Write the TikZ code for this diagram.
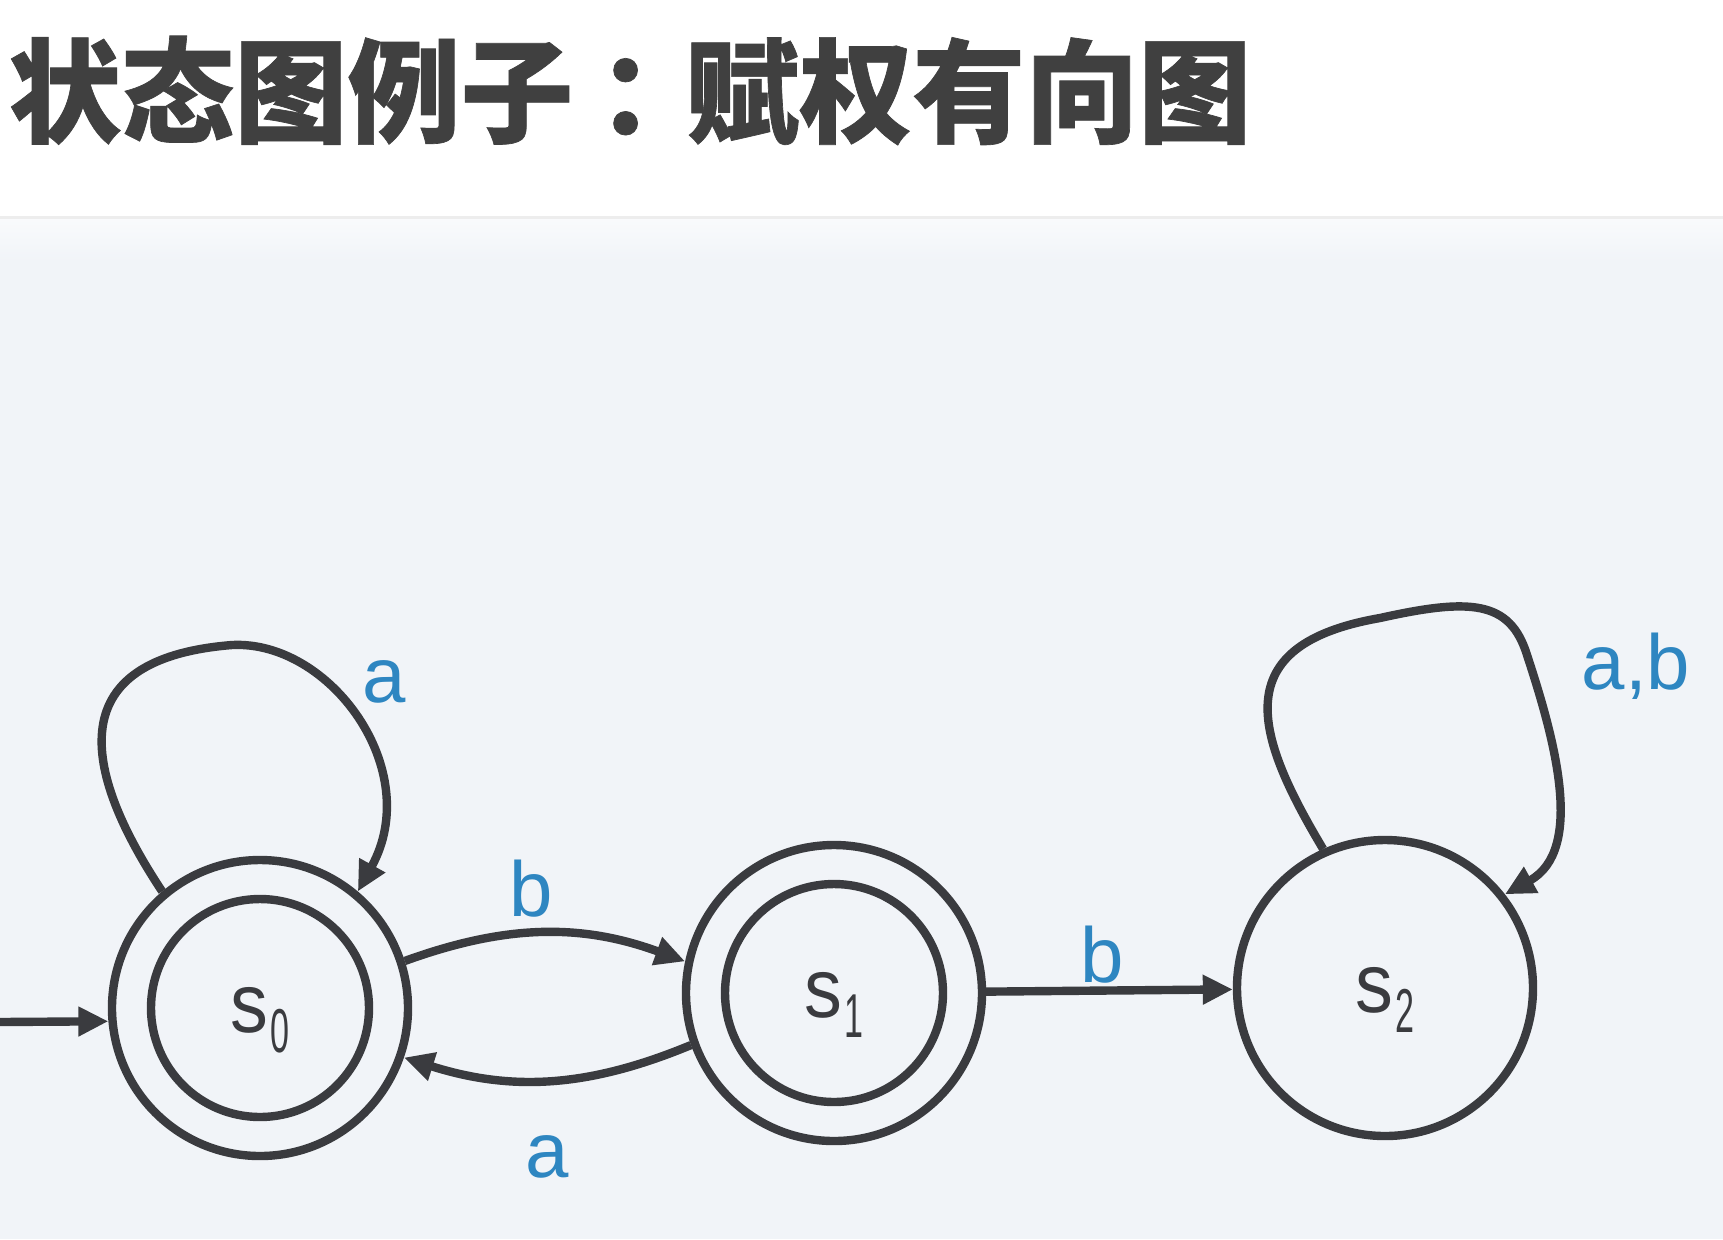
\documentclass[tikz,border=0pt]{standalone}
\usepackage{fontspec}
\setmainfont{Liberation Sans}
\newfontfamily\cjk{Noto Sans CJK SC}[BoldFeatures={FakeBold=0.6}]
\usetikzlibrary{arrows.meta}
\definecolor{ink}{HTML}{3A3B3F}
\definecolor{lbl}{HTML}{2E86C1}
\definecolor{bgc}{HTML}{F1F4F8}
\definecolor{ttl}{HTML}{404040}
\newcommand\stlab[1]{\scalebox{0.9}[1]{s}\hspace{1pt}\raisebox{-10pt}{\fontsize{31pt}{31pt}\selectfont\scalebox{0.55}[1]{#1}}}
\begin{document}
\begin{tikzpicture}[x=0.5pt,y=-0.5pt,
  state/.style={circle,draw=ink,line width=4.2pt,minimum size=148pt,inner sep=0pt,
    text height=24pt,text depth=0pt,font=\fontsize{42pt}{44pt}\selectfont,text=ink},
  innerring/.style={draw=ink,line width=4.2pt},
  edge/.style={draw=ink,line width=4.2pt,-{Triangle[length=15pt,width=14pt]}},
  lab/.style={text=lbl,font=\fontsize{39pt}{40pt}\selectfont,anchor=base,inner sep=0pt}]
\useasboundingbox (0,0) rectangle (1723,1239);
\fill[bgc] (0,0) rectangle (1723,1239);
\fill[white] (0,0) rectangle (1723,217);
\shade[top color=white!60!bgc,bottom color=bgc] (0,217) rectangle (1723,262);
\draw[color=black!7,line width=1.5pt] (0,217) -- (1723,217);
\node[anchor=base west,inner sep=0pt,text=ttl,font=\cjk\bfseries\fontsize{56.5pt}{60pt}\selectfont] (title) at (8,134) {状态图例子\hspace{12pt}：\hspace{-12pt}赋权有向图};
% states
\node[state] (s0) at (260,1008) {\stlab{0}};
\node[state] (s1) at (834,993) {\stlab{1}};
\node[state] (s2) at (1385,988) {\stlab{2}};
\draw[innerring] (s0.center) circle[radius=54.5pt];
\draw[innerring] (s1.center) circle[radius=54.5pt];
% start arrow
\coordinate (init) at (0,1022);
\draw[edge] (init) -- (s0.185);
% transitions
\draw[edge] (s0.18) to[bend left=20] (s1.168);
\draw[edge] (s1.200) to[bend left=20] (s0.341);
\draw[edge] (s1) -- (s2);
% self loops
\draw[edge] (s0.130) .. controls (95,790) and (45,660) .. (232,645)
  .. controls (330,640) and (425,770) .. (s0.50);
\draw[edge] (s2.114) .. controls (1255,735) and (1225,645) .. (1380,618)
  .. controls (1470,598) and (1510,600) .. (1527,655)
  .. controls (1555,740) and (1585,850) .. (s2.38);
% labels
\node[lab] (la0) at (384,702) {a};
\node[lab] (lb01) at (531,916) {b};
\node[lab] (la10) at (547,1177) {a};
\node[lab] (lb12) at (1102,982) {b};
\node[lab] (lab2) at (1636,689) {a,b};
\end{tikzpicture}
\end{document}
